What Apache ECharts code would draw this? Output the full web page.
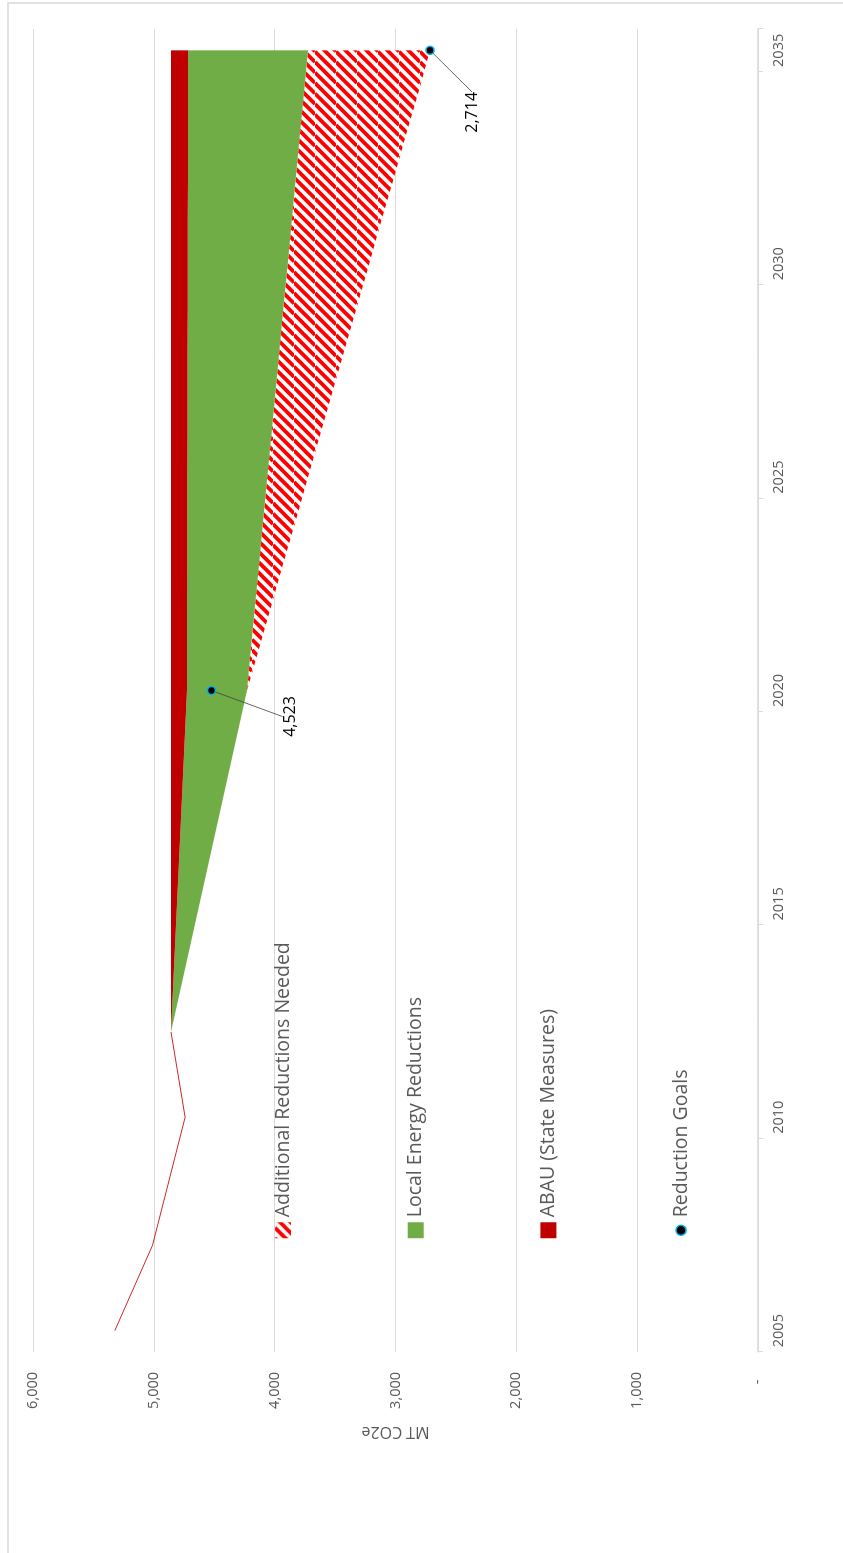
<!DOCTYPE html>
<html>
<head>
<meta charset="utf-8">
<script src="https://cdn.jsdelivr.net/npm/echarts@6/dist/echarts.min.js"></script>
<style>
  html, body { margin: 0; padding: 0; background: #fff; overflow: hidden; width: 843px; height: 1553px; }
  /* the chart is laid out landscape and turned a quarter turn counter-clockwise */
  #chart { position: absolute; left: 0; top: 0; width: 1553px; height: 843px;
           transform-origin: 0 0; transform: translate(0, 1553px) rotate(-90deg); }
</style>
</head>
<body>
<div id="chart"></div>
<script>
// Years on the category axis
const years = ['2005','2006','2007','2008','2009','2010','2011','2012','2013','2014','2015',
               '2016','2017','2018','2019','2020','2021','2022','2023','2024','2025',
               '2026','2027','2028','2029','2030','2031','2032','2033','2034','2035'];

// Historical inventory (MT CO2e)
const histYears  = ['2005', '2007', '2010', '2012'];
const histValues = [5323, 5011, 4741, 4858];

// Projection years and stacked wedges (MT CO2e)
const areaYears = years.slice(7); // 2012 .. 2035
const bau        = [4858,4858,4858,4858,4858,4858,4858,4858,4858,4858,4858,4858,
                    4858,4858,4858,4858,4858,4858,4858,4858,4858,4858,4858,4858];
const abau       = [0,17,33,50,66,83,99,116,132,133,133,134,
                    135,135,136,137,137,138,139,139,140,140,141,141];
const localRed   = [0,62,124,186,248,311,373,435,497,530,563,596,
                    629,662,695,728,761,794,827,860,893,926,960,993];
const additional = [0,0,0,0,0,0,0,0,0,67,135,202,
                    270,337,405,472,540,607,675,742,810,877,945,1010];

// Reduction goals
const goalYears  = ['2020', '2035'];
const goalValues = [4523, 2714];

// Label placement for the goal call-outs (pixel offsets from the marker)
const goalLabelOffsets = [[-26, 79], [-62, 42]];

// Remaining emissions under all measures (the invisible base of the stack)
const remaining = bau.map((v, i) => v - abau[i] - localRed[i] - additional[i]);
const pairs = (arr) => areaYears.map((y, i) => [y, arr[i]]);

// Red "wide upward diagonal" hatch
function makeHatch() {
  const s = 21, p = 10.5;
  const c = document.createElement('canvas');
  c.width = s; c.height = s;
  const g = c.getContext('2d');
  g.fillStyle = '#ffffff';
  g.fillRect(0, 0, s, s);
  g.strokeStyle = '#ff0000';
  g.lineWidth = 3.8;
  for (let k = -3; k <= 3; k++) {
    g.beginPath();
    g.moveTo(k * p, s);
    g.lineTo(k * p + s, 0);
    g.stroke();
  }
  return { image: c, repeat: 'repeat' };
}
const hatch = makeHatch();

const GREEN = '#70AD47', DARKRED = '#C00000', GRID = '#D9D9D9', TXT = '#595959';

const chart = echarts.init(document.getElementById('chart'), null, { width: 1553, height: 843, renderer: 'canvas' });

const areaSeries = (name, arr, fill) => ({
  name: name, type: 'line', stack: 'total', data: pairs(arr),
  symbol: 'none', showSymbol: false, silent: true,
  lineStyle: { width: 0 },
  itemStyle: { color: fill },
  areaStyle: { color: fill, opacity: 1 },
  z: 2
});

chart.setOption({
  animation: false,
  backgroundColor: '#ffffff',
  textStyle: { fontFamily: 'Open Sans' },
  graphic: [{
    type: 'rect', silent: true, z: -1,
    shape: { x: -10, y: 8, width: 1560, height: 900 },
    style: { fill: 'none', stroke: GRID, lineWidth: 1.5 }
  }],
  grid: { left: 201, right: 29, top: 33, bottom: 85, containLabel: false, outerBoundsMode: 'none' },
  xAxis: {
    type: 'category', data: years, boundaryGap: true,
    axisLine: { show: true, lineStyle: { color: GRID, width: 1.5 } },
    axisTick: { show: true, interval: 4, alignWithLabel: false, length: 5, lineStyle: { color: GRID } },
    axisLabel: { interval: 4, color: TXT, fontSize: 14.5, margin: 13, fontFamily: 'Open Sans' },
    splitLine: { show: false }
  },
  yAxis: {
    type: 'value', min: 0, max: 6000, interval: 1000,
    name: 'MT CO2e', nameLocation: 'middle', nameGap: 72, nameRotate: 90,
    nameTextStyle: { color: TXT, fontSize: 16, fontFamily: 'Open Sans' },
    axisLine: { show: false }, axisTick: { show: false },
    axisLabel: {
      color: TXT, fontSize: 14.5, margin: 20, fontFamily: 'Open Sans',
      formatter: (v) => v === 0 ? '-  ' : v.toLocaleString('en-US')
    },
    splitLine: { show: true, lineStyle: { color: GRID, width: 1 } }
  },
  legend: {
    orient: 'vertical', left: 309, top: 268,
    itemWidth: 16, itemHeight: 16, itemGap: 112.7,
    textStyle: { color: TXT, fontSize: 19.5, lineHeight: 20, fontFamily: 'Open Sans' },
    selectedMode: false,
    data: [
      { name: 'Additional Reductions Needed', icon: 'rect', itemStyle: { color: hatch }, lineStyle: { width: 0 } },
      { name: 'Local Energy Reductions', icon: 'rect', itemStyle: { color: GREEN }, lineStyle: { width: 0 } },
      { name: 'ABAU (State Measures)', icon: 'rect', itemStyle: { color: DARKRED }, lineStyle: { width: 0 } },
      { name: 'Reduction Goals', icon: 'path://M0,0M16,16M3,8A5,5,0,1,1,13,8A5,5,0,1,1,3,8Z',
        itemStyle: { color: '#000000', borderColor: '#00B0F0', borderWidth: 1.5 } }
    ]
  },
  series: [
    {
      name: 'base', type: 'line', stack: 'total', data: pairs(remaining),
      symbol: 'none', showSymbol: false, silent: true,
      lineStyle: { width: 0, opacity: 0 }, z: 1
    },
    areaSeries('Additional Reductions Needed', additional, hatch),
    areaSeries('Local Energy Reductions', localRed, GREEN),
    areaSeries('ABAU (State Measures)', abau, DARKRED),
    {
      name: 'Inventory', type: 'line', data: histYears.map((y, i) => [y, histValues[i]]),
      symbol: 'none', showSymbol: false, silent: true,
      lineStyle: { color: '#D02828', width: 1 }, z: 3
    },
    {
      name: 'Reduction Goals', type: 'scatter', silent: true,
      data: goalYears.map((y, i) => [y, goalValues[i]]),
      symbol: 'circle', symbolSize: 8,
      itemStyle: { color: '#000000', borderColor: '#00B0F0', borderWidth: 1.5, opacity: 1 },
      label: {
        show: true, position: 'inside', color: '#000000', fontSize: 16, fontFamily: 'Open Sans',
        formatter: (p) => p.value[1].toLocaleString('en-US')
      },
      labelLine: { show: true, lineStyle: { color: '#404040', width: 0.8 } },
      labelLayout: function (p) {
        const off = goalLabelOffsets[p.dataIndex];
        const cx = p.rect.x + p.rect.width / 2;
        const cy = p.rect.y + p.rect.height / 2;
        const lr = p.labelRect;
        const lx = lr.x + off[0], ly = lr.y + off[1];
        let pts;
        if (p.dataIndex === 0) {
          pts = [[cx, cy], [lx + lr.width / 2 - 7, ly - 5]];
        } else {
          pts = [[cx, cy], [lx + lr.width + 17, cy + off[1]], [lx + lr.width + 9, cy + off[1]]];
        }
        return { dx: off[0], dy: off[1], labelLinePoints: pts };
      },
      z: 5
    }
  ]
});
</script>
</body>
</html>
